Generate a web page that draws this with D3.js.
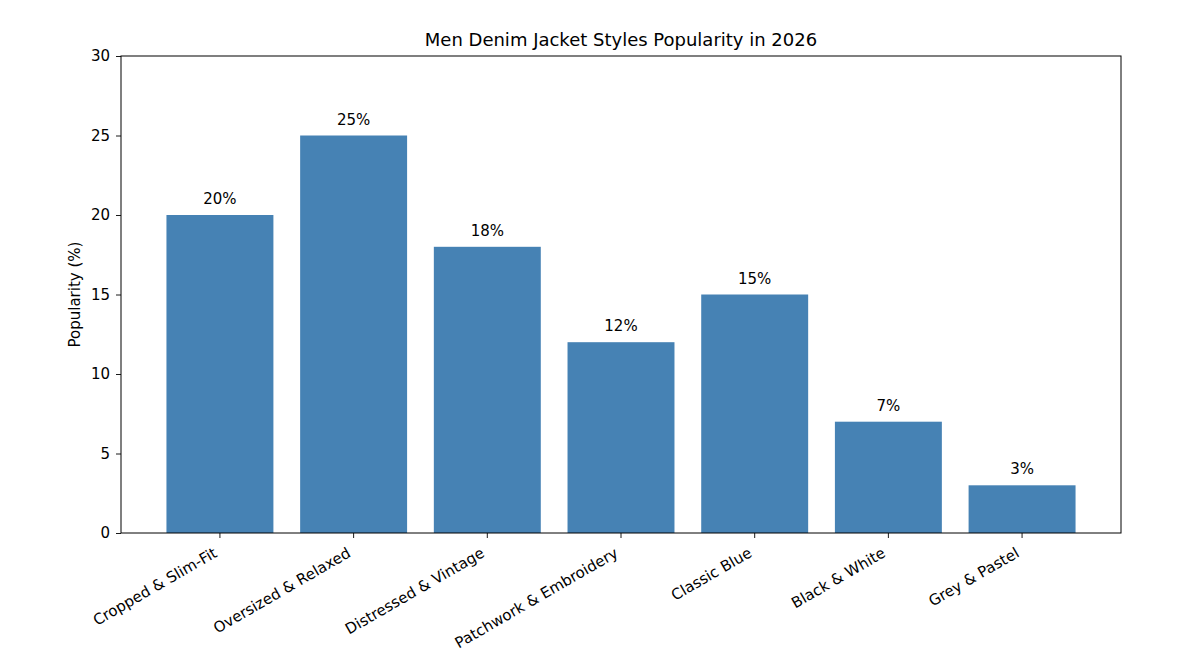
<!DOCTYPE html>
<html><head><meta charset="utf-8">
<script src="https://cdn.jsdelivr.net/npm/d3@7"></script>
<style>body{margin:0;background:#fff;} text{font-family:"DejaVu Sans",sans-serif;fill:#000;}</style>
</head><body>
<svg id="c" width="1179" height="657"></svg>
<script>
const categories = ["Cropped & Slim-Fit","Oversized & Relaxed","Distressed & Vintage","Patchwork & Embroidery","Classic Blue","Black & White","Grey & Pastel"];
const popularity = [20,25,18,12,15,7,3];
const yTicks = [0,5,10,15,20,25,30];
const title = "Men Denim Jacket Styles Popularity in 2026";
const yLabel = "Popularity (%)";

const L=121, R=1121, T=56, B=533;
const FS="15px";
const svg=d3.select("#c");
const x=d3.scaleBand().domain(categories).range([L,R]).paddingInner(0.2).paddingOuter(0.34);
const y=d3.scaleLinear().domain([0,30]).range([B,T]);

svg.append("g").selectAll("rect").data(popularity).join("rect")
  .attr("x",(d,i)=>x(categories[i])).attr("width",x.bandwidth())
  .attr("y",d=>y(d)).attr("height",d=>B-y(d)).attr("fill","#4682b4");

svg.append("g").selectAll("text").data(popularity).join("text")
  .attr("x",(d,i)=>x(categories[i])+x.bandwidth()/2)
  .attr("y",d=>y(d+0.5)-3).attr("text-anchor","middle").attr("font-size",FS)
  .text(d=>d+"%");

// y axis
const yAxis=svg.append("g").attr("transform",`translate(${L},0)`)
  .call(d3.axisLeft(y).tickValues(yTicks).tickSize(5).tickPadding(6));
yAxis.select(".domain").remove();
yAxis.selectAll("text").attr("font-size",FS).attr("font-family","DejaVu Sans").attr("fill","#000");
yAxis.selectAll("line").attr("stroke","#000").attr("stroke-width",0.9);

// x axis
const xAxis=svg.append("g").attr("transform",`translate(0,${B})`)
  .call(d3.axisBottom(x).tickSize(5).tickFormat(""));
xAxis.select(".domain").remove();
xAxis.selectAll("line").attr("stroke","#000").attr("stroke-width",0.9);
svg.append("g").selectAll("text").data(categories).join("text")
  .attr("transform",d=>`translate(${x(d)+x.bandwidth()/2-1.8},${556}) rotate(-30)`)
  .attr("text-anchor","end").attr("font-size",FS).text(d=>d);

// frame
svg.append("rect").attr("x",L).attr("y",T).attr("width",R-L).attr("height",B-T)
  .attr("fill","none").attr("stroke","#000").attr("stroke-width",1);

svg.append("text").attr("x",(L+R)/2).attr("y",46).attr("text-anchor","middle")
  .attr("font-size","18px").text(title);
svg.append("text").attr("transform",`translate(80,${(T+B)/2}) rotate(-90)`)
  .attr("text-anchor","middle").attr("font-size",FS).text(yLabel);
</script>
</body></html>
